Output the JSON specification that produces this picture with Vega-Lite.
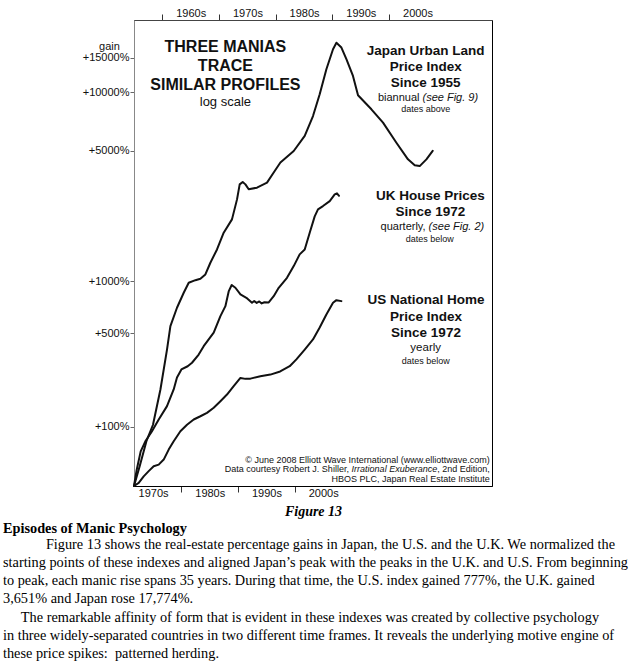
{
  "$schema": "https://vega.github.io/schema/vega-lite/v6.json",
  "width": 358,
  "height": 466,
  "autosize": {"type": "none"},
  "padding": {"left": 134, "top": 20, "right": 143, "bottom": 179},
  "background": "white",
  "config": {
    "view": {"stroke": "#000", "strokeWidth": 1},
    "font": "Liberation Sans",
    "text": {"color": "#111"}
  },
  "title": {
    "text": "Episodes of Manic Psychology",
    "subtitle": [
      "\u200b\u00a0\u00a0\u00a0\u00a0\u00a0\u00a0\u00a0\u00a0\u00a0\u00a0\u00a0\u00a0Figure 13 shows the real-estate percentage gains in Japan, the U.S. and the U.K. We normalized the",
      "starting points of these indexes and aligned Japan’s peak with the peaks in the U.K. and U.S. From beginning",
      "to peak, each manic rise spans 35 years. During that time, the U.S. index gained 777%, the U.K. gained",
      "3,651% and Japan rose 17,774%.",
      "\u200b\u00a0\u00a0\u00a0\u00a0\u00a0The remarkable affinity of form that is evident in these indexes was created by collective psychology",
      "in three widely-separated countries in two different time frames. It reveals the underlying motive engine of",
      "these price spikes:\u00a0\u00a0patterned herding."
    ],
    "orient": "bottom",
    "anchor": "start",
    "frame": "group",
    "align": "left",
    "dx": -131,
    "offset": 3,
    "font": "Liberation Serif",
    "fontSize": 14.3,
    "fontWeight": "bold",
    "color": "#000",
    "subtitleFont": "Liberation Serif",
    "subtitleFontSize": 14.3,
    "subtitleColor": "#000",
    "subtitleLineHeight": 18.2,
    "subtitlePadding": 2
  },
  "datasets": {
    "series": [
      {"series": "Japan", "t": 0, "r": 1},
      {"series": "Japan", "t": 1.0, "r": 1.26},
      {"series": "Japan", "t": 2.19, "r": 1.69},
      {"series": "Japan", "t": 3.35, "r": 2.05},
      {"series": "Japan", "t": 4.66, "r": 3.1},
      {"series": "Japan", "t": 5.82, "r": 4.95},
      {"series": "Japan", "t": 6.42, "r": 6.51},
      {"series": "Japan", "t": 7.58, "r": 8.08},
      {"series": "Japan", "t": 8.77, "r": 9.63},
      {"series": "Japan", "t": 9.65, "r": 10.83},
      {"series": "Japan", "t": 10.83, "r": 11.16},
      {"series": "Japan", "t": 11.71, "r": 11.35},
      {"series": "Japan", "t": 12.59, "r": 11.94},
      {"series": "Japan", "t": 13.47, "r": 13.69},
      {"series": "Japan", "t": 14.64, "r": 16.0},
      {"series": "Japan", "t": 15.82, "r": 19.47},
      {"series": "Japan", "t": 17.28, "r": 22.76},
      {"series": "Japan", "t": 18.17, "r": 28.77},
      {"series": "Japan", "t": 18.64, "r": 34.3},
      {"series": "Japan", "t": 19.17, "r": 35.3},
      {"series": "Japan", "t": 19.65, "r": 34.3},
      {"series": "Japan", "t": 20.23, "r": 32.4},
      {"series": "Japan", "t": 21.69, "r": 33.0},
      {"series": "Japan", "t": 23.46, "r": 35.0},
      {"series": "Japan", "t": 24.64, "r": 39.4},
      {"series": "Japan", "t": 25.82, "r": 44.3},
      {"series": "Japan", "t": 28.17, "r": 50.7},
      {"series": "Japan", "t": 30.11, "r": 60.5},
      {"series": "Japan", "t": 31.57, "r": 76.4},
      {"series": "Japan", "t": 32.75, "r": 98.6},
      {"series": "Japan", "t": 33.93, "r": 132.2},
      {"series": "Japan", "t": 35.1, "r": 167.2},
      {"series": "Japan", "t": 35.7, "r": 180.4},
      {"series": "Japan", "t": 36.58, "r": 170.5},
      {"series": "Japan", "t": 37.46, "r": 148.7},
      {"series": "Japan", "t": 38.62, "r": 122.2},
      {"series": "Japan", "t": 39.51, "r": 97.5},
      {"series": "Japan", "t": 41.87, "r": 82.7},
      {"series": "Japan", "t": 43.92, "r": 70.7},
      {"series": "Japan", "t": 46.28, "r": 55.9},
      {"series": "Japan", "t": 48.32, "r": 46.0},
      {"series": "Japan", "t": 49.51, "r": 42.9},
      {"series": "Japan", "t": 50.39, "r": 42.5},
      {"series": "Japan", "t": 51.57, "r": 46.0},
      {"series": "Japan", "t": 52.68, "r": 50.8},
      {"series": "UK", "t": 0, "r": 1},
      {"series": "UK", "t": 0.48, "r": 1.21},
      {"series": "UK", "t": 1.18, "r": 1.5},
      {"series": "UK", "t": 2.06, "r": 1.7},
      {"series": "UK", "t": 3.12, "r": 1.89},
      {"series": "UK", "t": 4.36, "r": 2.18},
      {"series": "UK", "t": 5.82, "r": 2.55},
      {"series": "UK", "t": 7.0, "r": 3.1},
      {"series": "UK", "t": 7.58, "r": 3.57},
      {"series": "UK", "t": 8.36, "r": 3.92},
      {"series": "UK", "t": 9.47, "r": 4.07},
      {"series": "UK", "t": 10.23, "r": 4.24},
      {"series": "UK", "t": 11.41, "r": 4.67},
      {"series": "UK", "t": 12.29, "r": 5.15},
      {"series": "UK", "t": 14.06, "r": 6.03},
      {"series": "UK", "t": 15.24, "r": 7.32},
      {"series": "UK", "t": 16.12, "r": 8.23},
      {"series": "UK", "t": 16.7, "r": 9.78},
      {"series": "UK", "t": 17.23, "r": 10.55},
      {"series": "UK", "t": 17.88, "r": 10.21},
      {"series": "UK", "t": 18.77, "r": 9.44},
      {"series": "UK", "t": 19.82, "r": 9.08},
      {"series": "UK", "t": 20.81, "r": 8.57},
      {"series": "UK", "t": 21.2, "r": 8.75},
      {"series": "UK", "t": 21.64, "r": 8.55},
      {"series": "UK", "t": 22.1, "r": 8.7},
      {"series": "UK", "t": 22.52, "r": 8.5},
      {"series": "UK", "t": 23.0, "r": 8.62},
      {"series": "UK", "t": 23.76, "r": 8.6},
      {"series": "UK", "t": 24.64, "r": 9.25},
      {"series": "UK", "t": 25.52, "r": 10.21},
      {"series": "UK", "t": 26.98, "r": 11.48},
      {"series": "UK", "t": 28.17, "r": 13.16},
      {"series": "UK", "t": 29.22, "r": 15.1},
      {"series": "UK", "t": 30.11, "r": 16.0},
      {"series": "UK", "t": 30.99, "r": 19.47},
      {"series": "UK", "t": 31.87, "r": 23.58},
      {"series": "UK", "t": 32.45, "r": 25.59},
      {"series": "UK", "t": 33.33, "r": 26.6},
      {"series": "UK", "t": 34.52, "r": 28.2},
      {"series": "UK", "t": 35.4, "r": 30.5},
      {"series": "UK", "t": 35.8, "r": 30.9},
      {"series": "UK", "t": 36.16, "r": 30.0},
      {"series": "US", "t": 0, "r": 1},
      {"series": "US", "t": 0.83, "r": 1.037},
      {"series": "US", "t": 1.71, "r": 1.12},
      {"series": "US", "t": 2.59, "r": 1.19},
      {"series": "US", "t": 3.47, "r": 1.26},
      {"series": "US", "t": 4.36, "r": 1.285},
      {"series": "US", "t": 5.24, "r": 1.363},
      {"series": "US", "t": 6.12, "r": 1.532},
      {"series": "US", "t": 7.0, "r": 1.69},
      {"series": "US", "t": 8.18, "r": 1.9},
      {"series": "US", "t": 9.35, "r": 2.05},
      {"series": "US", "t": 10.53, "r": 2.18},
      {"series": "US", "t": 11.71, "r": 2.265},
      {"series": "US", "t": 12.87, "r": 2.357},
      {"series": "US", "t": 14.06, "r": 2.5},
      {"series": "US", "t": 15.24, "r": 2.7},
      {"series": "US", "t": 16.4, "r": 2.92},
      {"series": "US", "t": 17.58, "r": 3.22},
      {"series": "US", "t": 18.77, "r": 3.55},
      {"series": "US", "t": 19.65, "r": 3.51},
      {"series": "US", "t": 20.53, "r": 3.52},
      {"series": "US", "t": 22.29, "r": 3.62},
      {"series": "US", "t": 24.06, "r": 3.69},
      {"series": "US", "t": 25.78, "r": 3.83},
      {"series": "US", "t": 27.46, "r": 4.07},
      {"series": "US", "t": 28.64, "r": 4.41},
      {"series": "US", "t": 30.11, "r": 4.95},
      {"series": "US", "t": 31.57, "r": 5.57},
      {"series": "US", "t": 32.75, "r": 6.41},
      {"series": "US", "t": 33.93, "r": 7.47},
      {"series": "US", "t": 35.1, "r": 8.57},
      {"series": "US", "t": 35.7, "r": 8.83},
      {"series": "US", "t": 36.58, "r": 8.73}
    ]
  },
  "resolve": {"axis": {"x": "independent", "y": "independent"}},
  "layer": [
    {
      "data": {"name": "series"},
      "mark": {"type": "line", "stroke": "#111", "strokeWidth": 2, "strokeJoin": "round", "strokeCap": "round"},
      "encoding": {
        "x": {
          "field": "t", "type": "quantitative",
          "scale": {"domain": [0, 63.14], "nice": false, "zero": false},
          "axis": {
            "orient": "bottom",
            "values": [8.36, 18.36, 28.36, 38.36],
            "labelExpr": "datum.value < 10 ? '1970s' : datum.value < 20 ? '1980s' : datum.value < 30 ? '1990s' : '2000s'",
            "labelOffset": -28.35,
            "labelFlush": false,
            "labelOverlap": false,
            "labelFont": "Liberation Sans",
            "labelFontSize": 11,
            "labelColor": "#111",
            "labelPadding": -5,
            "tickSize": 6,
            "tickColor": "#333",
            "tickOpacity": {"condition": {"test": "datum.value > 35", "value": 0}, "value": 1},
            "domainColor": "#000",
            "grid": false,
            "title": "Figure 13",
            "titleFont": "Liberation Serif",
            "titleFontSize": 14,
            "titleFontWeight": "bold",
            "titleFontStyle": "italic",
            "titleColor": "#000",
            "titleBaseline": "middle",
            "titleY": 25.5
          }
        },
        "y": {
          "field": "r", "type": "quantitative",
          "scale": {"type": "log", "domain": [1, 235.5], "nice": false},
          "axis": {
            "orient": "left",
            "values": [2, 6, 11, 51, 101, 151],
            "labelExpr": "'+' + format((datum.value - 1) * 100, 'd') + '%'",
            "labelFont": "Liberation Sans",
            "labelFontSize": 11,
            "labelColor": "#111",
            "labelPadding": 1,
            "labelOverlap": false,
            "labelFlush": false,
            "tickSize": 4,
            "tickColor": "#666",
            "domainColor": "#888",
            "grid": false,
            "title": "gain",
            "titleAngle": 0,
            "titleX": -25,
            "titleY": 26,
            "titleAlign": "center",
            "titleBaseline": "middle",
            "titleFont": "Liberation Sans",
            "titleFontSize": 11,
            "titleFontWeight": "normal",
            "titleColor": "#111"
          }
        },
        "detail": {"field": "series"}
      }
    },
    {
      "data": {"values": [{}]},
      "mark": {"type": "text", "font": "Liberation Sans", "fontSize": 16, "fontWeight": "bold", "align": "center", "baseline": "middle", "lineHeight": 19},
      "encoding": {
        "x": {
          "datum": 16.12, "type": "quantitative",
          "axis": {
            "orient": "top",
            "values": [5, 15, 25, 35, 45],
            "labelExpr": "(1955 + datum.value) + 's'",
            "labelOffset": 28.35,
            "labelFlush": false,
            "labelOverlap": false,
            "labelFont": "Liberation Sans",
            "labelFontSize": 11,
            "labelColor": "#111",
            "labelPadding": -4,
            "tickSize": 6,
            "tickColor": "#333",
            "domainColor": "#444",
            "grid": false,
            "title": null
          }
        },
        "y": {"datum": 171.8, "type": "quantitative", "axis": null},
        "text": {"value": ["THREE MANIAS", "TRACE", "SIMILAR PROFILES"]}
      }
    },
    {
      "data": {"values": [{}]},
      "mark": {"type": "text", "font": "Liberation Sans", "fontSize": 13, "align": "center", "baseline": "middle"},
      "encoding": {
        "x": {"datum": 16.12, "type": "quantitative", "axis": null},
        "y": {"datum": 89.8, "type": "quantitative", "axis": null},
        "text": {"value": "log scale"}
      }
    },
    {
      "data": {"values": [{}]},
      "mark": {"type": "text", "font": "Liberation Sans", "fontSize": 13.5, "fontWeight": "bold", "align": "center", "baseline": "middle", "lineHeight": 16},
      "encoding": {
        "x": {"datum": 51.45, "type": "quantitative", "axis": null},
        "y": {"datum": 163.1, "type": "quantitative", "axis": null},
        "text": {"value": ["Japan Urban Land", "Price Index", "Since 1955"]}
      }
    },
    {
      "data": {"values": [{}]},
      "mark": {"type": "text", "font": "Liberation Sans", "fontSize": 11, "align": "right", "baseline": "middle"},
      "encoding": {
        "x": {"datum": 50.35, "type": "quantitative", "axis": null},
        "y": {"datum": 94.9, "type": "quantitative", "axis": null},
        "text": {"value": "biannual"}
      }
    },
    {
      "data": {"values": [{}]},
      "mark": {"type": "text", "font": "Liberation Sans", "fontSize": 11, "fontStyle": "italic", "align": "left", "baseline": "middle", "dx": 3},
      "encoding": {
        "x": {"datum": 50.35, "type": "quantitative", "axis": null},
        "y": {"datum": 94.9, "type": "quantitative", "axis": null},
        "text": {"value": "(see Fig. 9)"}
      }
    },
    {
      "data": {"values": [{}]},
      "mark": {"type": "text", "font": "Liberation Sans", "fontSize": 9, "align": "center", "baseline": "middle"},
      "encoding": {
        "x": {"datum": 51.45, "type": "quantitative", "axis": null},
        "y": {"datum": 82.7, "type": "quantitative", "axis": null},
        "text": {"value": "dates above"}
      }
    },
    {
      "data": {"values": [{}]},
      "mark": {"type": "text", "font": "Liberation Sans", "fontSize": 13.5, "fontWeight": "bold", "align": "center", "baseline": "middle", "lineHeight": 16.5},
      "encoding": {
        "x": {"datum": 52.29, "type": "quantitative", "axis": null},
        "y": {"datum": 30.03, "type": "quantitative", "axis": null},
        "text": {"value": ["UK House Prices", "Since 1972"]}
      }
    },
    {
      "data": {"values": [{}]},
      "mark": {"type": "text", "font": "Liberation Sans", "fontSize": 11, "align": "right", "baseline": "middle"},
      "encoding": {
        "x": {"datum": 51.43, "type": "quantitative", "axis": null},
        "y": {"datum": 20.89, "type": "quantitative", "axis": null},
        "text": {"value": "quarterly,"}
      }
    },
    {
      "data": {"values": [{}]},
      "mark": {"type": "text", "font": "Liberation Sans", "fontSize": 11, "fontStyle": "italic", "align": "left", "baseline": "middle", "dx": 3},
      "encoding": {
        "x": {"datum": 51.43, "type": "quantitative", "axis": null},
        "y": {"datum": 20.89, "type": "quantitative", "axis": null},
        "text": {"value": "(see Fig. 2)"}
      }
    },
    {
      "data": {"values": [{}]},
      "mark": {"type": "text", "font": "Liberation Sans", "fontSize": 9, "align": "center", "baseline": "middle"},
      "encoding": {
        "x": {"datum": 52.15, "type": "quantitative", "axis": null},
        "y": {"datum": 18.15, "type": "quantitative", "axis": null},
        "text": {"value": "dates below"}
      }
    },
    {
      "data": {"values": [{}]},
      "mark": {"type": "text", "font": "Liberation Sans", "fontSize": 13.5, "fontWeight": "bold", "align": "center", "baseline": "middle", "lineHeight": 16.5},
      "encoding": {
        "x": {"datum": 51.5, "type": "quantitative", "axis": null},
        "y": {"datum": 8.8, "type": "quantitative", "axis": null},
        "text": {"value": ["US National Home", "Price Index", "Since 1972"]}
      }
    },
    {
      "data": {"values": [{}]},
      "mark": {"type": "text", "font": "Liberation Sans", "fontSize": 11.5, "align": "center", "baseline": "middle"},
      "encoding": {
        "x": {"datum": 51.45, "type": "quantitative", "axis": null},
        "y": {"datum": 5.03, "type": "quantitative", "axis": null},
        "text": {"value": "yearly"}
      }
    },
    {
      "data": {"values": [{}]},
      "mark": {"type": "text", "font": "Liberation Sans", "fontSize": 9, "align": "center", "baseline": "middle"},
      "encoding": {
        "x": {"datum": 51.45, "type": "quantitative", "axis": null},
        "y": {"datum": 4.35, "type": "quantitative", "axis": null},
        "text": {"value": "dates below"}
      }
    },
    {
      "data": {"values": [{}]},
      "mark": {"type": "text", "font": "Liberation Sans", "fontSize": 9, "align": "right", "baseline": "middle"},
      "encoding": {
        "x": {"datum": 62.73, "type": "quantitative", "axis": null},
        "y": {"datum": 1.363, "type": "quantitative", "axis": null},
        "text": {"value": "© June 2008 Elliott Wave International (www.elliottwave.com)"}
      }
    },
    {
      "data": {"values": [{}]},
      "mark": {"type": "text", "font": "Liberation Sans", "fontSize": 9, "align": "right", "baseline": "middle"},
      "encoding": {
        "x": {"datum": 37.9, "type": "quantitative", "axis": null},
        "y": {"datum": 1.219, "type": "quantitative", "axis": null},
        "text": {"value": "Data courtesy Robert J. Shiller,"}
      }
    },
    {
      "data": {"values": [{}]},
      "mark": {"type": "text", "font": "Liberation Sans", "fontSize": 9, "fontStyle": "italic", "align": "right", "baseline": "middle"},
      "encoding": {
        "x": {"datum": 53.47, "type": "quantitative", "axis": null},
        "y": {"datum": 1.219, "type": "quantitative", "axis": null},
        "text": {"value": "Irrational Exuberance"}
      }
    },
    {
      "data": {"values": [{}]},
      "mark": {"type": "text", "font": "Liberation Sans", "fontSize": 9, "align": "right", "baseline": "middle"},
      "encoding": {
        "x": {"datum": 62.73, "type": "quantitative", "axis": null},
        "y": {"datum": 1.219, "type": "quantitative", "axis": null},
        "text": {"value": ", 2nd Edition,"}
      }
    },
    {
      "data": {"values": [{}]},
      "mark": {"type": "text", "font": "Liberation Sans", "fontSize": 9, "align": "right", "baseline": "middle"},
      "encoding": {
        "x": {"datum": 62.73, "type": "quantitative", "axis": null},
        "y": {"datum": 1.091, "type": "quantitative", "axis": null},
        "text": {"value": "HBOS PLC, Japan Real Estate Institute"}
      }
    }
  ]
}
